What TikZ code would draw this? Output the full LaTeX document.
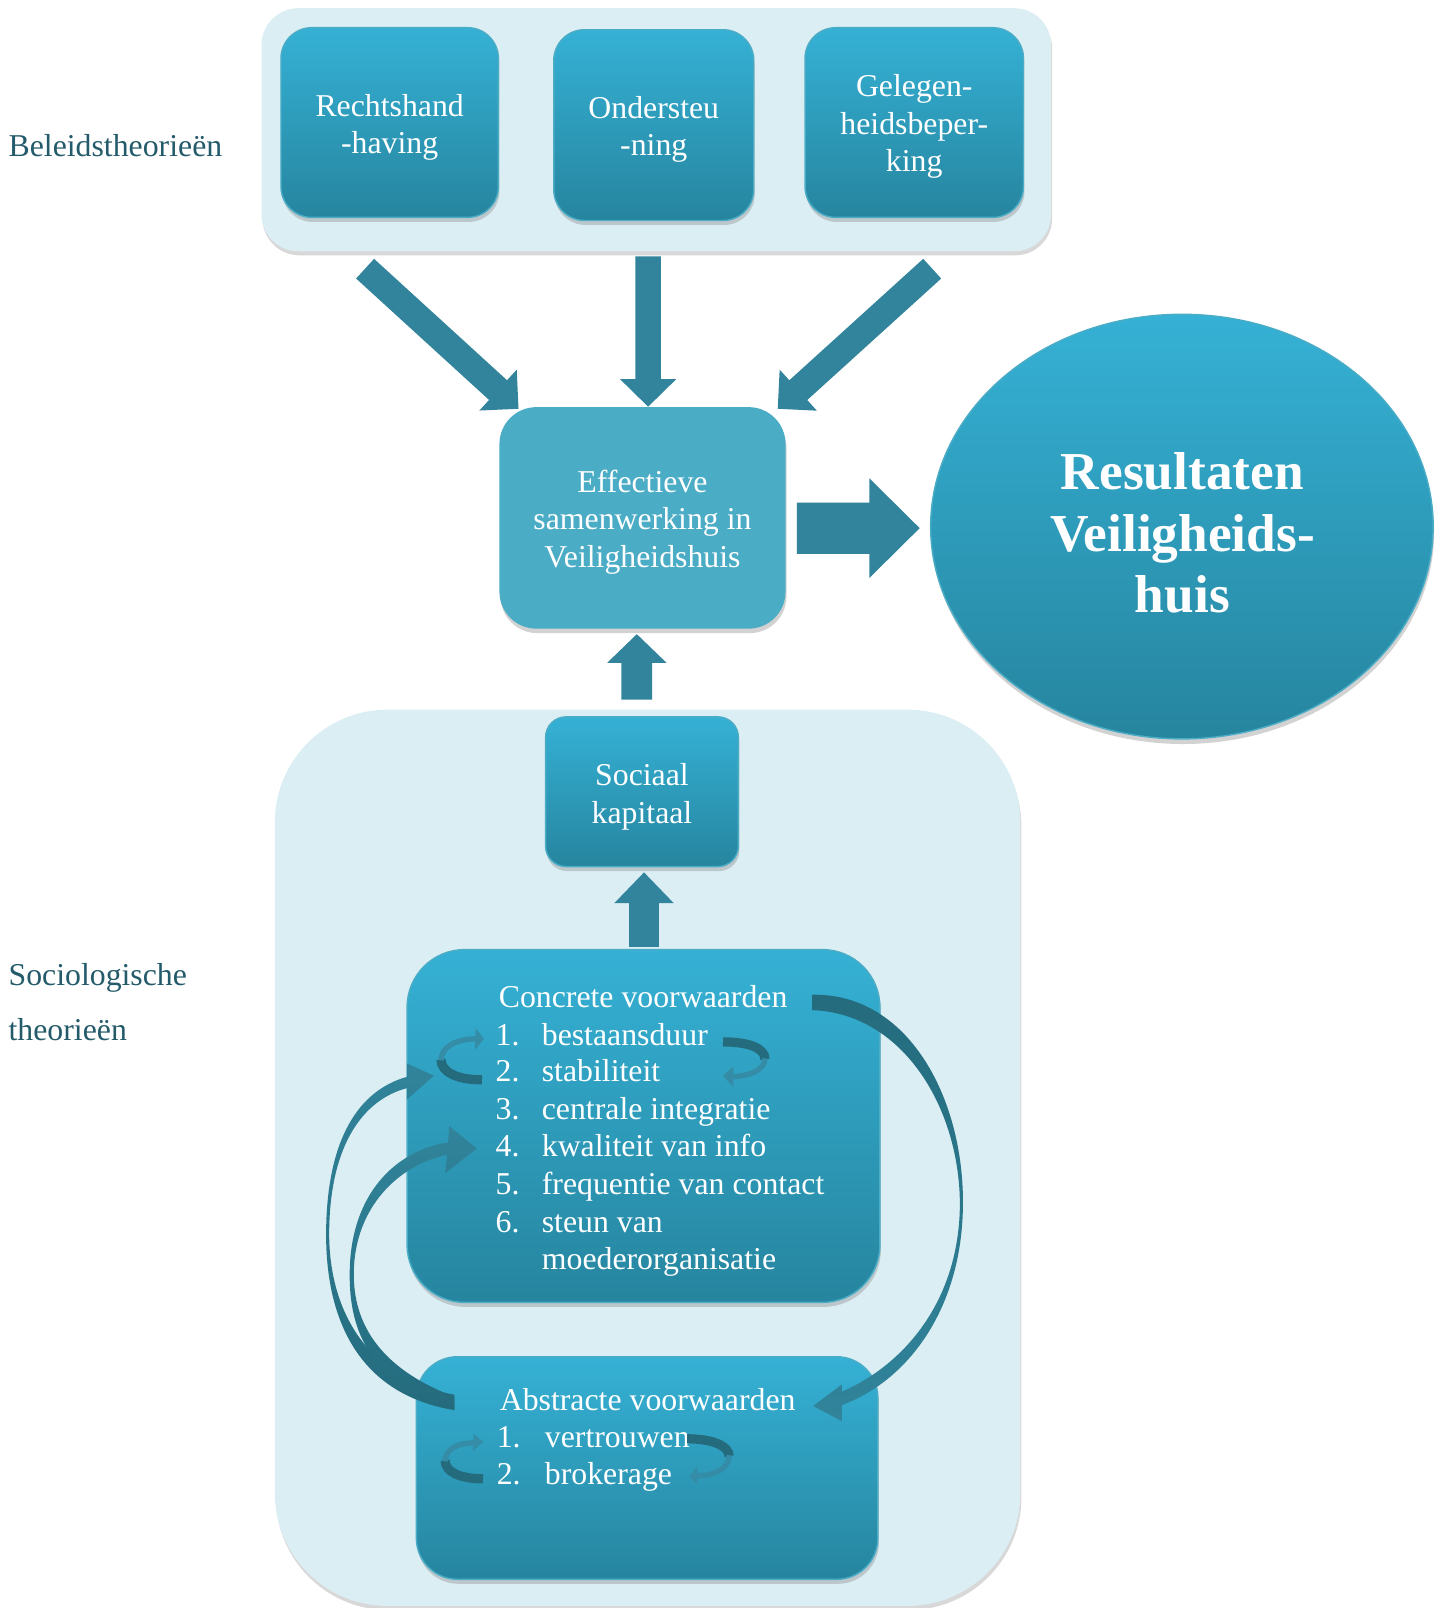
\documentclass[tikz,border=0pt]{standalone}
\usepackage{fontspec}
\setmainfont{Liberation Serif}
\usetikzlibrary{shapes.geometric,shadows,calc}
\definecolor{panel}{RGB}{219,238,243}
\definecolor{boxtop}{RGB}{53,177,213}
\definecolor{boxbot}{RGB}{38,133,159}
\definecolor{boxedge}{RGB}{75,172,198}
\definecolor{effcol}{RGB}{75,172,198}
\definecolor{arrowcol}{RGB}{49,132,155}
\definecolor{darkarrow}{RGB}{36,107,125}
\definecolor{ringlight}{RGB}{52,140,166}
\definecolor{labelcol}{RGB}{36,91,107}
\newcommand\mybody{\fontsize{15.5}{18.25}\selectfont}
\newcommand\mytitle{\fontsize{26}{30}\selectfont\bfseries}
% block arrow: tail, tip, half shaft, half head, head length
\newcommand\blockarr[5]{%
  \coordinate (ba-b) at ($(#2)!#5!(#1)$);
  \fill[arrowcol] ($(#1)!#3!90:(#2)$) -- ($(ba-b)!#3!-90:(#1)$) -- ($(ba-b)!#4!-90:(#1)$) -- (#2)
     -- ($(ba-b)!#4!90:(#1)$) -- ($(ba-b)!#3!90:(#1)$) -- ($(#1)!#3!-90:(#2)$) -- cycle;
}
\begin{document}
\begin{tikzpicture}[x=0.5pt,y=-0.5pt,
  bluebox/.style={rounded corners=#1, top color=boxtop, bottom color=boxbot, draw=boxedge,
    line width=0.7pt, inner sep=0pt,
    drop shadow={shadow xshift=0.5pt, shadow yshift=-2.2pt, opacity=0.35}},
  bluebox/.default=15pt,
  boxtext/.style={text=white, align=center, font=\mybody, inner sep=0pt},
  panelbox/.style={rounded corners=#1, fill=panel, inner sep=0pt,
    drop shadow={shadow xshift=0.5pt, shadow yshift=-2pt, opacity=0.3}},
  listtext/.style={anchor=base west, inner sep=0pt, text=white, font=\mybody},
  labeltext/.style={anchor=base west, inner sep=0pt, text=labelcol, font=\mybody},
  ringdark/.style={draw=darkarrow, line width=4.5pt},
  ringlt/.style={draw=ringlight, line width=2.6pt},
]
\useasboundingbox (0,0) rectangle (1407,1568);
\fill[white] (0,0) rectangle (1407,1568);

% panels
\node[panelbox=18pt, minimum width=385pt, minimum height=118.5pt] (ptop) at (640,126.5) {};
\node[panelbox=55pt, minimum width=363.5pt, minimum height=437pt] (pbot) at (631.5,1129) {};

% top boxes
\node[bluebox=15pt, minimum width=106pt, minimum height=92.5pt] (r1) at (380,119.5) {};
\node[bluebox=15pt, minimum width=97.5pt, minimum height=93pt] (r2) at (637.5,122) {};
\node[bluebox=15pt, minimum width=106.5pt, minimum height=92.5pt] (r3) at (891.5,119.5) {};
\node[boxtext] (r1t) at ($(r1)+(0,4.5)$) {Rechtshand\\-having};
\node[boxtext] (r2t) at ($(r2)+(0,4)$) {Ondersteu\\-ning};
\node[boxtext] (r3t) at ($(r3)+(0,4)$) {Gelegen-\\heidsbeper-\\king};

% central box
\node[rounded corners=18pt, fill=effcol, inner sep=0pt,
  minimum width=139.5pt, minimum height=108pt,
  drop shadow={shadow xshift=0.5pt, shadow yshift=-2.2pt, opacity=0.35}] (eff) at (626.5,505) {};
\node[boxtext] (efft) at ($(eff)+(0,4)$) {Effectieve\\samenwerking in\\Veiligheidshuis};

% result ellipse
\node[ellipse, top color=boxtop, bottom color=boxbot, draw=boxedge, line width=0.7pt, inner sep=0pt,
  minimum width=245pt, minimum height=207pt,
  drop shadow={shadow xshift=0.5pt, shadow yshift=-2.5pt, opacity=0.35}] (res) at (1152.5,513.5) {};
\node[text=white, align=center, font=\mytitle, inner sep=0pt] (restext) at (1153,520)
  {Resultaten\\Veiligheids-\\huis};

% lower boxes
\node[bluebox=10pt, minimum width=94pt, minimum height=73pt] (soc) at (626,772) {};
\node[boxtext] (soct) at ($(soc)+(0,5)$) {Sociaal\\kapitaal};
\node[bluebox=28pt, minimum width=230.5pt, minimum height=172pt] (con) at (627.5,1098) {};
\node[bluebox=20pt, minimum width=225pt, minimum height=108.5pt] (abs) at (631,1431.5) {};

% list texts
\node[listtext] (c0) at (486,982) {Concrete voorwaarden};
\node[listtext] (c1) at (483,1019) {\makebox[22.5pt][l]{1.}bestaansduur};
\node[listtext] (c2) at (483,1055) {\makebox[22.5pt][l]{2.}stabiliteit};
\node[listtext] (c3) at (483,1092) {\makebox[22.5pt][l]{3.}centrale integratie};
\node[listtext] (c4) at (483,1128) {\makebox[22.5pt][l]{4.}kwaliteit van info};
\node[listtext] (c5) at (483,1165) {\makebox[22.5pt][l]{5.}frequentie van contact};
\node[listtext] (c6) at (483,1202) {\makebox[22.5pt][l]{6.}steun van};
\node[listtext] (c7) at (528,1238) {moederorganisatie};

\node[listtext] (a0) at (487,1375) {Abstracte voorwaarden};
\node[listtext] (a1) at (484,1411) {\makebox[23.5pt][l]{1.}vertrouwen};
\node[listtext] (a2) at (484,1448) {\makebox[23.5pt][l]{2.}brokerage};

% side labels
\node[labeltext] (lb1) at (8,153) {Beleidstheorieën};
\node[labeltext] (lb2) at (8,961) {Sociologische};
\node[labeltext] (lb3) at (8,1015) {theorieën};

% block arrows
\coordinate (a1t) at (356,262);
\coordinate (a1h) at ($(eff.north west)+(19,2)$);
\coordinate (a2t) at (632,250);
\coordinate (a2h) at ($(eff.north)+(5.5,0)$);
\coordinate (a3t) at (909,262);
\coordinate (a3h) at ($(eff.north east)+(-8,2)$);
\coordinate (a4t) at ($(eff.east)+(10.75,10)$);
\coordinate (a4h) at ($(res.west)+(-10,1.5)$);
\coordinate (a5t) at ($(soc.north)+(-5,-16)$);
\coordinate (a5h) at ($(eff.south)+(-5.5,5)$);
\coordinate (a6t) at ($(con.north)+(0.5,-2)$);
\coordinate (a6h) at ($(soc.south)+(2,5)$);
\blockarr{a1t}{a1h}{6.5pt}{13.5pt}{13.5pt}
\blockarr{a2t}{a2h}{6.25pt}{13.75pt}{13.5pt}
\blockarr{a3t}{a3h}{6.5pt}{13.5pt}{13.5pt}
\blockarr{a4t}{a4h}{12.5pt}{24.25pt}{24.5pt}
\blockarr{a5t}{a5h}{7.5pt}{14.5pt}{14pt}
\blockarr{a6t}{a6h}{7.25pt}{14.5pt}{15pt}

% big curved arrow: concrete -> abstracte
\shade[top color=darkarrow, bottom color=arrowcol]
  (792,970) .. controls (885,968) and (940,1070) .. (939,1175)
  .. controls (938,1280) and (882,1348) .. (821,1370)
  -- (821,1386) -- (793,1371) -- (821,1350) -- (821,1357)
  .. controls (875,1334) and (935,1275) .. (936,1175)
  .. controls (936,1080) and (880,988) .. (792,985) -- cycle;

% curved arrows: abstracte -> concrete
\shade[top color=arrowcol, bottom color=darkarrow]
  (443,1375) .. controls (352,1360) and (317,1290) .. (318,1200)
  .. controls (319,1110) and (350,1063) .. (397,1050)
  -- (397,1037) -- (423,1049) -- (397,1072) -- (397,1061)
  .. controls (355,1072) and (322,1115) .. (321,1200)
  .. controls (320,1280) and (360,1345) .. (443,1360) -- cycle;
\shade[top color=arrowcol, bottom color=darkarrow]
  (443,1374) .. controls (362,1348) and (340,1300) .. (341,1240)
  .. controls (342,1165) and (385,1122) .. (437,1114)
  -- (438,1098) -- (465,1120) -- (434,1144) -- (436,1126)
  .. controls (388,1136) and (346,1178) .. (345,1240)
  .. controls (344,1292) and (372,1335) .. (443,1362) -- cycle;

% small circular arrows in concrete box
\draw[ringdark] (470,1053) .. controls (445,1053) and (430,1045) .. (430,1033);
\draw[ringlt] (430,1034) .. controls (430,1021) and (445,1013) .. (464,1013);
\fill[ringlight] (464,1003) -- (472,1013) -- (463,1024) -- cycle;
\draw[ringdark] (705,1016) .. controls (730,1016) and (746,1022) .. (746,1033);
\draw[ringlt] (746,1032) .. controls (746,1043) and (732,1049) .. (714,1050);
\fill[ringlight] (715,1040) -- (705,1049) -- (715,1060) -- cycle;

% small circular arrows in abstracte box
\draw[ringdark] (471,1442) .. controls (448,1442) and (434,1435) .. (434,1424);
\draw[ringlt] (434,1425) .. controls (434,1414) and (445,1407) .. (462,1407);
\fill[ringlight] (462,1398) -- (471,1406) -- (461,1415) -- cycle;
\draw[ringdark] (670,1403) .. controls (695,1403) and (711,1410) .. (711,1420);
\draw[ringlt] (711,1419) .. controls (711,1432) and (697,1439) .. (679,1439);
\fill[ringlight] (680,1430) -- (672,1440) -- (680,1448) -- cycle;
\end{tikzpicture}
\end{document}
